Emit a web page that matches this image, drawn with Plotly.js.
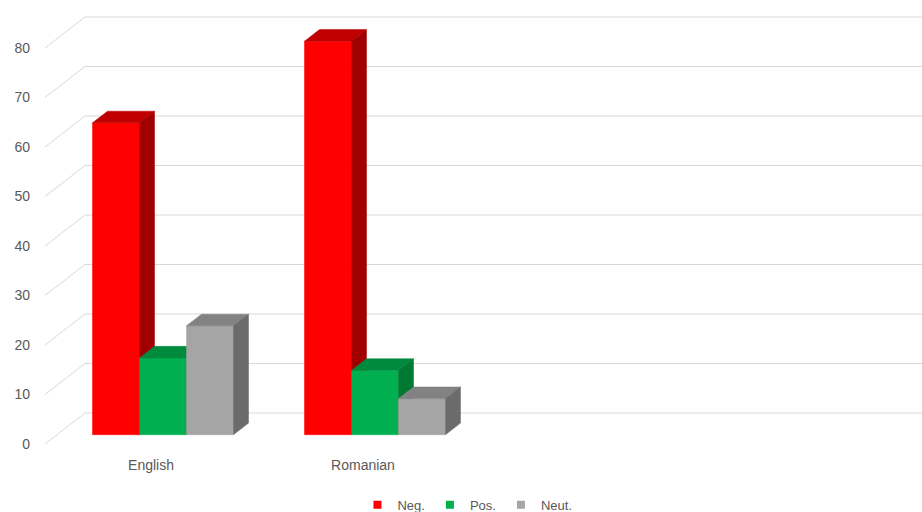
<!DOCTYPE html>
<html><head><meta charset="utf-8">
<script src="https://cdn.plot.ly/plotly-3.0.1.min.js"></script>
<style>html,body{margin:0;padding:0;background:#fff}#chart{width:922px;height:512px}</style>
</head><body><div id="chart"></div>
<script>
// ---- data ----
const categories = ['English', 'Romanian'];
const seriesNames = ['Neg.', 'Pos.', 'Neut.'];
const negValues = [63, 79.5];
const posValues = [15.5, 13];
const neutValues = [22, 7.3];
const yTickValues = [0, 10, 20, 30, 40, 50, 60, 70, 80];
const yTickLabels = ['0', '10', '20', '30', '40', '50', '60', '70', '80'];

// ---- styles ----
const frontColors = ['#FF0000', '#00B050', '#A5A5A5'];
const topColors = ['#C00000', '#008A3E', '#828282'];
const sideColors = ['#A00000', '#007A33', '#6B6B6B'];
const gridColor = '#D9D9D9';
const textColor = '#595959';
const fontFamily = 'Liberation Sans, Arial, sans-serif';

// ---- oblique 3D geometry (axis units) ----
const PX_X = 212, PX_Y = 4.95;
const plotW = 877, plotH = 444;
const X0 = -0.5, X1 = X0 + plotW / PX_X;
const Y1 = plotH / PX_Y;
const wallDX = 40 / PX_X, wallDY = 31 / PX_Y;
const dFront = 0.3, dBack = 0.675;
const barW = 47 / PX_X;

const allSeries = [negValues, posValues, neutValues];
const traces = [];

// gridlines: front-plane diagonal + back-wall horizontal
const gx = [], gy = [];
yTickValues.forEach(v => {
  gx.push(X0, X0 + wallDX, X1, null);
  gy.push(v, v + wallDY, v + wallDY, null);
});
traces.push({type: 'scatter', mode: 'lines', x: gx, y: gy,
  line: {color: gridColor, width: 1}, hoverinfo: 'skip', showlegend: false});

const fx = dFront * wallDX, fy = dFront * wallDY;
const ddx = (dBack - dFront) * wallDX, ddy = (dBack - dFront) * wallDY;

function poly(xs, ys, color) {
  traces.push({type: 'scatter', mode: 'lines', x: xs.concat([xs[0]]), y: ys.concat([ys[0]]),
    fill: 'toself', fillcolor: color, line: {color: color, width: 0.5},
    hoverinfo: 'skip', showlegend: false});
}

categories.forEach((cat, c) => {
  allSeries.forEach((vals, k) => {
    const v = vals[c];
    const xl = c - 1.5 * barW + k * barW + fx;
    const xr = xl + barW;
    const b = fy;
    poly([xl, xr, xr, xl], [b, b, b + v, b + v], frontColors[k]);
    poly([xl, xr, xr + ddx, xl + ddx], [b + v, b + v, b + v + ddy, b + v + ddy], topColors[k]);
    poly([xr, xr, xr + ddx, xr + ddx], [b, b + v, b + v + ddy, b + ddy], sideColors[k]);
  });
});

// legend entries
seriesNames.forEach((name, k) => {
  traces.push({type: 'scatter', mode: 'markers', name: name, x: [null], y: [null],
    marker: {symbol: 'square', size: 8, color: frontColors[k]}, hoverinfo: 'skip'});
});

const layout = {
  width: 922, height: 512,
  margin: {l: 45, r: 0, t: 0, b: 512 - plotH},
  paper_bgcolor: '#FFFFFF', plot_bgcolor: '#FFFFFF',
  font: {family: fontFamily, size: 14, color: textColor},
  showlegend: true,
  legend: {orientation: 'h', xref: 'container', yref: 'container', x: 0.507, xanchor: 'center',
    y: 0.014, yanchor: 'middle', font: {size: 13, color: textColor}, itemwidth: 30,
    tracegroupgap: 0},
  xaxis: {range: [X0, X1], showgrid: false, zeroline: false, showline: false,
    tickmode: 'array', tickvals: categories.map((_, i) => i), ticktext: categories,
    ticks: '', ticklabelstandoff: 11, fixedrange: true},
  yaxis: {range: [0, Y1], showgrid: false, zeroline: false, showline: false,
    tickmode: 'array', tickvals: yTickValues, ticktext: yTickLabels,
    ticks: '', ticklabelstandoff: 14, fixedrange: true}
};

Plotly.newPlot('chart', traces, layout, {displayModeBar: false, staticPlot: true});
</script>
</body></html>
